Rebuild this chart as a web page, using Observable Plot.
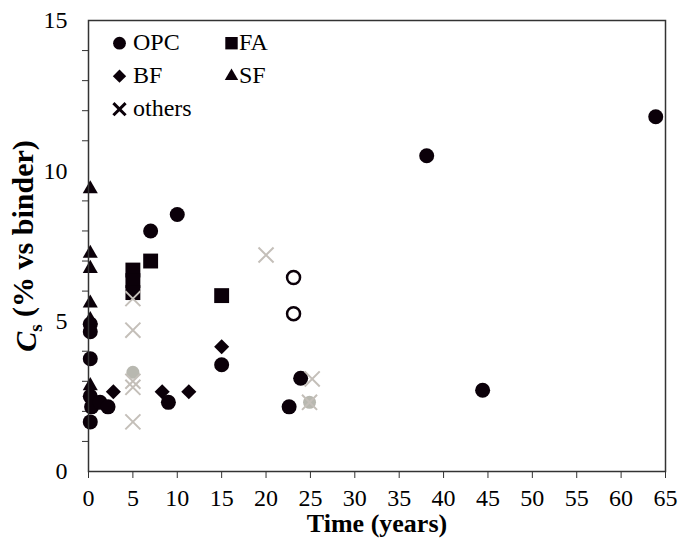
<!DOCTYPE html>
<html><head><meta charset="utf-8">
<script src="https://cdn.jsdelivr.net/npm/d3@7"></script>
<script src="https://cdn.jsdelivr.net/npm/@observablehq/plot@0.6"></script>
<style>
html,body{margin:0;padding:0;background:#fff;}
#chart{width:678px;height:549px;}
#chart svg text{font-family:"Liberation Serif","Times New Roman",serif !important;}
</style></head><body><div id="chart"></div>
<script>
// ---- data ----
const opcTime = [0.2, 0.2, 0.2, 0.2, 0.35, 0.2, 1.3, 2.2, 7.0, 9.0, 10.0, 15.0, 22.6, 23.9, 38.1, 44.4, 63.9];
const opcCs   = [4.9, 4.65, 3.75, 2.5, 2.15, 1.65, 2.3, 2.15, 8.0, 2.3, 8.55, 3.55, 2.15, 3.1, 10.5, 2.7, 11.8];
const faTime = [5, 5, 5, 7, 15];
const faCs   = [6.7, 6.35, 5.95, 7.0, 5.85];
const bfTime = [2.8, 8.3, 11.3, 15.0];
const bfCs   = [2.65, 2.65, 2.65, 4.15];
const sfTime = [0.2, 0.2, 0.2, 0.2, 0.2, 0.2];
const sfCs   = [9.4, 7.25, 6.75, 5.6, 5.05, 2.85];
const othersTime = [5, 5, 5, 5, 5, 20, 25.2, 24.9];
const othersCs   = [5.75, 4.7, 3.0, 2.8, 1.65, 7.2, 3.08, 2.3];
const greyDotTime = [5, 24.9];
const greyDotCs   = [3.3, 2.3];
const openTime = [23.1, 23.1];
const openCs   = [6.45, 5.25];

const xTicks = [0,5,10,15,20,25,30,35,40,45,50,55,60,65];
const yTicks = [0,5,10,15];
const yMinorTicks = [1,2,3,4,6,7,8,9,11,12,13,14];
const legendNames = ["OPC","FA","BF","SF","others"];
const xLabel = "Time (years)";
const yLabel = "Cs (% vs binder)";

// ---- helpers ----
const pts = (t, c) => t.map((d, i) => ({t: d, c: c[i]}));
const BLACK = "#0b0009";
const GREY_X = "#c4bfb9";
const GREY_DOT = "#b8b8b0";
const FONT = "'Liberation Serif', 'Times New Roman', serif";

const legendStyle = [
  {symbol: "circle", r: 6.4, fill: BLACK},
  {symbol: "square", r: 7.0, fill: BLACK},
  {symbol: "diamond2", r: 6.0, fill: BLACK},
  {symbol: "triangle", r: 5.0, fill: BLACK},
  {symbol: "times", r: 5.6, stroke: BLACK, strokeWidth: 3, fill: "none"}
];

const legendMarks = legendNames.flatMap((name, i) => {
  const col = i % 2, row = Math.floor(i / 2);
  const dx = 31 + 112 * col, dy = 22.7 + 33 * row;
  const gap = col === 0 ? 13.5 : 7.5;
  const s = legendStyle[i];
  return [
    Plot.dot([name], {frameAnchor: "top-left", dx, dy, ...s}),
    Plot.text([name], {frameAnchor: "top-left", dx: dx + gap, dy: dy - 1.2, text: d => d,
      textAnchor: "start", lineAnchor: "middle", fontSize: 24, fill: "#000"})
  ];
});

const chart = Plot.plot({
  width: 678, height: 549,
  marginLeft: 88, marginRight: 13, marginTop: 20, marginBottom: 78,
  x: {domain: [0, 65]},
  y: {domain: [0, 15]},
  style: {fontFamily: FONT, fontSize: "24px", color: "#000", background: "#fff"},
  marks: [
    Plot.axisX({ticks: xTicks, tickSize: 7, tickPadding: 10, tickFormat: d => String(d), label: null, fontSize: 24, stroke: "#333"}),
    Plot.axisY({ticks: yTicks, tickSize: 0, tickPadding: 21, tickFormat: d => String(d), label: null, fontSize: 24}),
    Plot.axisY({ticks: yMinorTicks, tickSize: 6, tickFormat: () => "", label: null, stroke: "#333"}),
    Plot.dot(pts(faTime, faCs), {x: "t", y: "c", symbol: "square", r: 8.4, fill: BLACK}),
    Plot.dot(pts(bfTime, bfCs), {x: "t", y: "c", symbol: "diamond2", r: 6.8, fill: BLACK}),
    Plot.dot(pts(sfTime, sfCs), {x: "t", y: "c", symbol: "triangle", r: 5.6, fill: BLACK}),
    Plot.dot(pts(opcTime, opcCs), {x: "t", y: "c", symbol: "circle", r: 7.5, fill: BLACK}),
    Plot.dot(pts(openTime, openCs), {x: "t", y: "c", symbol: "circle", r: 6.5, fill: "#fff", stroke: BLACK, strokeWidth: 2.5}),
    Plot.dot(pts(greyDotTime, greyDotCs), {x: "t", y: "c", symbol: "circle", r: 6.5, fill: GREY_DOT}),
    Plot.dot(pts(othersTime, othersCs), {x: "t", y: "c", symbol: "times", r: 6.9, stroke: GREY_X, strokeWidth: 2, fill: "none"}),
    Plot.frame({stroke: "#333", strokeWidth: 1.5}),
    ...legendMarks,
    Plot.text([xLabel], {frameAnchor: "bottom", dy: 52, text: d => d, textAnchor: "middle", lineAnchor: "middle", fontSize: 26, fontWeight: "bold", fill: "#000"}),
    Plot.text([yLabel], {frameAnchor: "left", dx: -62, rotate: -90, text: d => d, textAnchor: "middle", lineAnchor: "middle", fontSize: 30, fontWeight: "bold", fill: "#000"})
  ]
});
document.getElementById("chart").appendChild(chart);

// rich formatting for the y label: italic C, subscript s
d3.select(chart).selectAll("text").filter(function() { return this.textContent === yLabel; }).each(function() {
  const yl = d3.select(this);
  yl.text(null);
  yl.append("tspan").attr("font-style", "italic").text("C");
  yl.append("tspan").attr("font-size", "19px").attr("dy", "0.3em").text("s");
  yl.append("tspan").attr("dy", "-0.3em").text(" (% vs binder)");
});
</script></body></html>
